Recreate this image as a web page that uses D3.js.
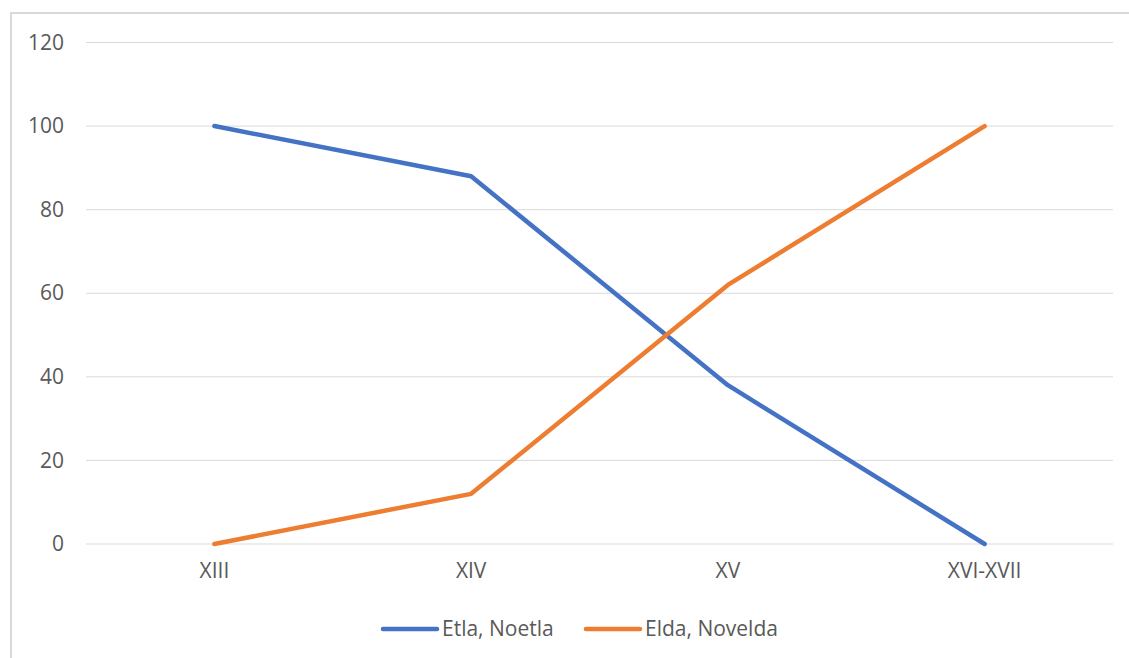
<!DOCTYPE html>
<html>
<head>
<meta charset="utf-8">
<script src="https://cdn.jsdelivr.net/npm/d3@7"></script>
<style>
  body { margin: 0; background: #fff; }
  svg text { font-family: "Open Sans", "Liberation Sans", Arial, sans-serif; fill: #595959; }
</style>
</head>
<body>
<svg id="chart" width="1129" height="658"></svg>
<script>
// categories and series
var categories = ["XIII", "XIV", "XV", "XVI-XVII"];
var etla = [100, 88, 38, 0];
var elda = [0, 12, 62, 100];
var yTicks = [0, 20, 40, 60, 80, 100, 120];
var seriesNames = ["Etla, Noetla", "Elda, Novelda"];
var seriesColors = ["#4472C4", "#ED7D31"];

var svg = d3.select("#chart"),
	width = +svg.attr("width"),
	height = +svg.attr("height");

var plot = {left: 86, right: 1113, top: 42.5, bottom: 544};

// chart frame
svg.append("path")
	.attr("d", "M11," + height + "V13H" + width)
	.attr("fill", "none")
	.attr("stroke", "#d9d9d9")
	.attr("stroke-width", 2);

var x = d3.scaleBand()
	.domain(categories)
	.range([plot.left, plot.right]);

var y = d3.scaleLinear()
	.domain([0, 120])
	.range([plot.bottom, plot.top]);

// gridlines
svg.append("g")
	.selectAll("line")
	.data(yTicks)
	.enter().append("line")
	.attr("x1", plot.left)
	.attr("x2", plot.right)
	.attr("y1", function(d) { return y(d); })
	.attr("y2", function(d) { return y(d); })
	.attr("stroke", "#d9d9d9")
	.attr("stroke-width", 1);

// y axis labels
var yAxis = d3.axisLeft(y).tickValues(yTicks).tickSize(0).tickPadding(0);
var gy = svg.append("g")
	.attr("transform", "translate(64,0)")
	.call(yAxis);
gy.select(".domain").remove();
gy.selectAll("text")
	.style("font-size", "21px")
	.attr("fill", "#595959");

// x axis labels
var xAxis = d3.axisBottom(x).tickSize(0).tickPadding(0);
var gx = svg.append("g")
	.attr("transform", "translate(0,563)")
	.call(xAxis);
gx.select(".domain").remove();
gx.selectAll("text")
	.style("font-size", "21px")
	.attr("fill", "#595959");

var line = d3.line()
	.x(function(d, i) { return x(categories[i]) + x.bandwidth() / 2; })
	.y(function(d) { return y(d); });

[etla, elda].forEach(function(values, k) {
	svg.append("path")
		.datum(values)
		.attr("d", line)
		.attr("fill", "none")
		.attr("stroke", seriesColors[k])
		.attr("stroke-width", 4.5)
		.attr("stroke-linecap", "round")
		.attr("stroke-linejoin", "round");
});

// legend
var legendX = [383, 586];
var legend = svg.append("g")
	.selectAll("g")
	.data(seriesNames)
	.enter().append("g")
	.attr("transform", function(d, i) { return "translate(" + legendX[i] + ",629)"; });

legend.append("line")
	.attr("x1", 0)
	.attr("x2", 54)
	.attr("stroke", function(d, i) { return seriesColors[i]; })
	.attr("stroke-width", 4.5)
	.attr("stroke-linecap", "round");

legend.append("text")
	.attr("x", 59)
	.attr("dy", "0.35em")
	.style("font-size", "21px")
	.text(function(d) { return d; });
</script>
</body>
</html>
